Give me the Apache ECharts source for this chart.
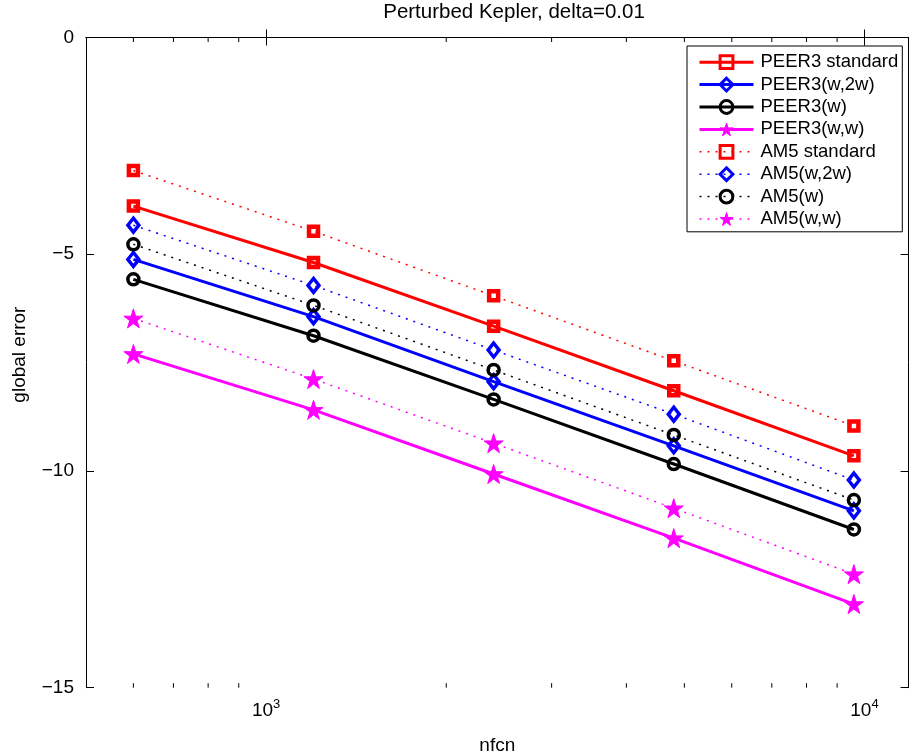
<!DOCTYPE html>
<html>
<head>
<meta charset="utf-8">
<script src="https://cdn.jsdelivr.net/npm/echarts@6/dist/echarts.min.js"></script>
<style>
html,body{margin:0;padding:0;background:#fff;}
#chart{width:912px;height:756px;}
</style>
</head>
<body>
<div id="chart"></div>
<script>
const xValues = [600, 1200, 2400, 4800, 9600];
const peer3Standard = [-3.89, -5.19, -6.66, -8.15, -9.65];
const peer3W2w = [-5.12, -6.44, -7.94, -9.42, -10.92];
const peer3W = [-5.58, -6.88, -8.35, -9.84, -11.35];
const peer3Ww = [-7.30, -8.59, -10.07, -11.55, -13.07];
const am5Standard = [-3.07, -4.47, -5.96, -7.46, -8.96];
const am5W2w = [-4.33, -5.72, -7.21, -8.69, -10.21];
const am5W = [-4.77, -6.18, -7.67, -9.17, -10.67];
const am5Ww = [-6.48, -7.88, -9.36, -10.86, -12.38];
const minorTicks = [600, 700, 800, 900, 2000, 3000, 4000, 5000, 6000, 7000, 8000, 9000];
const xMin = 500, xMax = 11850;
const yMin = -15, yMax = 0, yStep = 5;

const FONT = "'Liberation Sans', Arial, Helvetica, sans-serif";
const STAR = 'path://M100,0L122.45,69.1L195.11,69.1L136.33,111.8L158.78,180.9L100,138.2L41.22,180.9L63.67,111.8L4.89,69.1L77.55,69.1Z';

function pairs(ys) { return xValues.map((x, i) => [x, ys[i]]); }

function mk(name, ys, color, dotted, kind) {
  const s = {
    name: name, type: 'line', data: pairs(ys), color: color,
    lineStyle: dotted ? { color: color, width: 1.5, type: [2, 6] } : { color: color, width: 3, type: 'solid' },
    itemStyle: { color: 'rgba(255,255,255,0)', borderColor: color, borderWidth: 3.5 },
    emphasis: { disabled: true }, animation: false, z: 3
  };
  if (kind === 'square') { s.symbol = 'rect'; s.symbolSize = 9; s.itemStyle.borderWidth = 4.5; }
  if (kind === 'diamond') { s.symbol = 'diamond'; s.symbolSize = [11, 14]; }
  if (kind === 'circle') { s.symbol = 'circle'; s.symbolSize = 11; }
  if (kind === 'star') { s.symbol = STAR; s.symbolSize = 19; s.itemStyle = { color: color, borderColor: color, borderWidth: 1 }; }
  return s;
}

const seriesList = [
  mk('PEER3 standard', peer3Standard, '#ff0000', false, 'square'),
  mk('PEER3(w,2w)', peer3W2w, '#0000ff', false, 'diamond'),
  mk('PEER3(w)', peer3W, '#000000', false, 'circle'),
  mk('PEER3(w,w)', peer3Ww, '#ff00ff', false, 'star'),
  mk('AM5 standard', am5Standard, '#ff0000', true, 'square'),
  mk('AM5(w,2w)', am5W2w, '#0000ff', true, 'diamond'),
  mk('AM5(w)', am5W, '#000000', true, 'circle'),
  mk('AM5(w,w)', am5Ww, '#ff00ff', true, 'star')
];

const legendData = seriesList.map(s => ({
  name: s.name,
  lineStyle: { width: s.lineStyle.width, type: s.lineStyle.type, color: s.lineStyle.color },
  itemStyle: { color: s.itemStyle.color, borderColor: s.itemStyle.borderColor, borderWidth: s.symbol === STAR ? 1 : 3 }
}));

seriesList.push({
  type: 'custom', name: 'minor', silent: true, clip: false, z: 10,
  xAxisIndex: 0, yAxisIndex: 0,
  data: minorTicks.map(v => [v, yMin]),
  renderItem: function (params, api) {
    const v = api.value(0);
    const b = api.coord([v, yMin]);
    const t = api.coord([v, yMax]);
    return { type: 'group', children: [
      { type: 'line', shape: { x1: b[0], y1: b[1], x2: b[0], y2: b[1] - 4.5 }, style: { stroke: '#000', lineWidth: 1 } },
      { type: 'line', shape: { x1: t[0], y1: t[1], x2: t[0], y2: t[1] + 4.5 }, style: { stroke: '#000', lineWidth: 1 } }
    ]};
  }
});

function isPow10(v) { const l = Math.log10(v); return Math.abs(l - Math.round(l)) < 1e-6; }

const chart = echarts.init(document.getElementById('chart'), null, { renderer: 'canvas' });
chart.setOption({
  animation: false,
  backgroundColor: '#fff',
  textStyle: { fontFamily: FONT },
  title: {
    text: 'Perturbed Kepler, delta=0.01', left: 514, top: 2, padding: 0, textAlign: 'center',
    textStyle: { fontFamily: FONT, fontSize: 20.5, fontWeight: 'normal', color: '#000' }
  },
  grid: { left: 86, right: 3.4, top: 37.5, bottom: 68.3, containLabel: false, outerBoundsMode: 'none' },
  legend: {
    orient: 'vertical', left: 687, top: 46, padding: [6.7, 4, 3.3, 11],
    itemWidth: 54, itemHeight: 16, itemGap: 3.4,
    borderColor: '#000', borderWidth: 1, backgroundColor: '#fff',
    data: legendData,
    textStyle: { fontFamily: FONT, fontSize: 18.5, color: '#000', padding: [0, 0, 0, 2] },
    selectedMode: false, z: 20
  },
  xAxis: [
    {
      type: 'log', logBase: 10, min: xMin, max: xMax, position: 'bottom',
      name: 'nfcn', nameLocation: 'middle', nameGap: 49,
      nameTextStyle: { fontFamily: FONT, fontSize: 19, color: '#000' },
      axisLine: { show: true, lineStyle: { color: '#000', width: 1 } },
      axisTick: { show: true, inside: true, length: 8, lineStyle: { color: '#000' } },
      axisLabel: {
        show: true, margin: 10, showMinLabel: false, showMaxLabel: false,
        formatter: function (v) {
          if (!isPow10(v)) return '';
          return '{b|10}{s|' + Math.round(Math.log10(v)) + '}';
        },
        rich: {
          b: { fontFamily: FONT, fontSize: 19, color: '#000' },
          s: { fontFamily: FONT, fontSize: 13, color: '#000', verticalAlign: 'bottom', padding: [0, 0, 14, 0] }
        }
      },
      splitLine: { show: false }
    },
    {
      type: 'log', logBase: 10, min: xMin, max: xMax, position: 'top',
      axisLine: { show: true, lineStyle: { color: '#000', width: 1 } },
      axisTick: { show: true, inside: true, length: 8, lineStyle: { color: '#000' } },
      axisLabel: { show: false }, splitLine: { show: false }
    }
  ],
  yAxis: [
    {
      type: 'value', min: yMin, max: yMax, interval: yStep, position: 'left',
      name: 'global error', nameLocation: 'middle', nameGap: 57, nameRotate: 90,
      nameTextStyle: { fontFamily: FONT, fontSize: 19, color: '#000', padding: [0, 0, 0, 16] },
      axisLine: { show: true, lineStyle: { color: '#000', width: 1 } },
      axisTick: { show: true, inside: true, length: 8, lineStyle: { color: '#000' } },
      axisLabel: {
        margin: 12, fontFamily: FONT, fontSize: 19, color: '#000',
        formatter: function (v) { return String(v).replace('-', '\u2212'); }
      },
      splitLine: { show: false }
    },
    {
      type: 'value', min: yMin, max: yMax, interval: yStep, position: 'right',
      axisLine: { show: true, lineStyle: { color: '#000', width: 1 } },
      axisTick: { show: true, inside: true, length: 8, lineStyle: { color: '#000' } },
      axisLabel: { show: false }, splitLine: { show: false }
    }
  ],
  series: seriesList
});
</script>
</body>
</html>
